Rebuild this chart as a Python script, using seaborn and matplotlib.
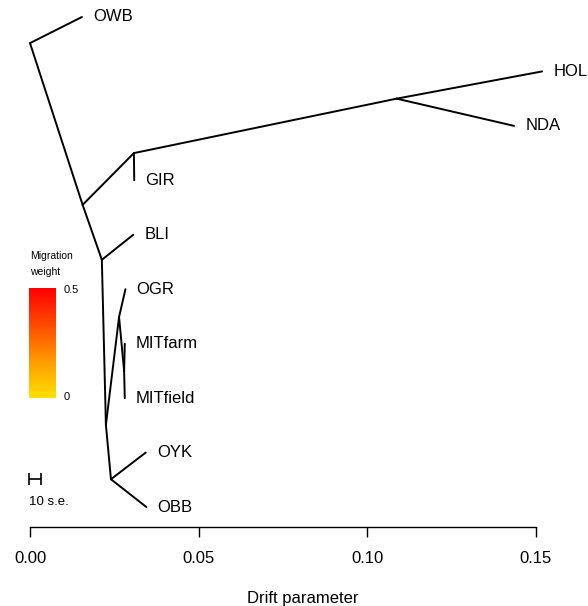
"""
TreeMix-style maximum likelihood tree with drift parameter axis.
"""

import numpy as np
import pandas as pd
import matplotlib
matplotlib.use("Agg")
import matplotlib.pyplot as plt
import seaborn as sns
from matplotlib.colors import LinearSegmentedColormap

# Tree nodes: name, drift (x) and vertical position (tip rank, OBB = 1)
node_names = ["root", "OWB", "A", "GH", "GIR", "HN", "HOL", "NDA", "B", "BLI",
              "C", "D", "OGR", "MIT", "MITfarm", "MITfield", "E", "OYK", "OBB"]
node_drift = [0.0000, 0.0154, 0.0156, 0.0308, 0.0309, 0.1087, 0.1518, 0.1435,
              0.0213, 0.0306, 0.0225, 0.0264, 0.0283, 0.0279, 0.0281, 0.0281,
              0.0240, 0.0343, 0.0345]
node_pos = [9.52, 10.0, 6.55, 7.50, 7.0, 8.50, 9.0, 8.0, 5.54, 6.0,
            2.51, 4.49, 5.0, 3.50, 4.0, 3.0, 1.51, 2.0, 1.0]

# Edges of the tree (parent -> child)
edge_parent = ["root", "root", "A", "GH", "GH", "HN", "HN", "A", "B", "B",
               "C", "D", "D", "MIT", "MIT", "C", "E", "E"]
edge_child = ["OWB", "A", "GH", "GIR", "HN", "HOL", "NDA", "B", "BLI", "C",
              "D", "OGR", "MIT", "MITfarm", "MITfield", "E", "OYK", "OBB"]

tips = ["OWB", "HOL", "NDA", "GIR", "BLI", "OGR", "MITfarm", "MITfield", "OYK", "OBB"]

x_ticks = [0.00, 0.05, 0.10, 0.15]
x_tick_labels = ["0.00", "0.05", "0.10", "0.15"]

# Scale bar (10 standard errors) and migration weight legend
se_drift = 0.0036
se_label = "10 s.e."
mig_range = ["0", "0.5"]

W, H = 588, 606


def fig_xy(px, py):
    return px / W, 1 - py / H


def main() -> None:
    sns.set_style("white")
    plt.rcParams["font.family"] = ["Liberation Sans", "DejaVu Sans"]
    plt.rcParams["text.color"] = "black"
    plt.rcParams["axes.labelcolor"] = "black"
    plt.rcParams["xtick.color"] = "black"

    fig = plt.figure(figsize=(W / 100, H / 100), dpi=100)
    ax = fig.add_axes([10 / W, (H - 527) / H, 568 / W, 522 / H])

    pos = {n: (x, y) for n, x, y in zip(node_names, node_drift, node_pos)}
    rows = []
    for i, (p, c) in enumerate(zip(edge_parent, edge_child)):
        for n in (p, c):
            rows.append({"edge": i, "drift": pos[n][0], "y": pos[n][1]})
    edges = pd.DataFrame(rows)

    sns.lineplot(data=edges, x="drift", y="y", units="edge", estimator=None,
                 sort=False, color="black", linewidth=1.4, ax=ax, legend=False)

    for t in tips:
        ax.annotate(t, xy=pos[t], xytext=(8, 0), textcoords="offset points",
                    ha="left", va="center", fontsize=12, color="black")

    # scale bar
    ax.errorbar(0.0015, 1.51, xerr=se_drift / 2, color="black", capsize=4.5,
                elinewidth=1.2, capthick=1.2, fmt="none")

    ax.set_xlim(-0.00593, 0.16246)
    ax.set_ylim(0.633, 10.22)
    ax.set_xticks(x_ticks)
    ax.set_xticklabels(x_tick_labels, fontsize=12)
    ax.set_yticks([])
    ax.set_ylabel("")
    ax.set_xlabel("Drift parameter", fontsize=12)
    ax.xaxis.label.set_va("baseline")
    ax.xaxis.set_label_coords(293 / 568, -76 / 522)
    for s in ("left", "top", "right"):
        ax.spines[s].set_visible(False)
    ax.spines["bottom"].set_bounds(0, 0.15)
    ax.spines["bottom"].set_linewidth(1.0)
    ax.spines["bottom"].set_color("black")
    ax.tick_params(axis="x", direction="out", length=7, width=1.0,
                   pad=10, bottom=True, colors="black")

    # migration weight colour bar
    cmap = LinearSegmentedColormap.from_list(
        "mig", ["#FFE000", "#FF9A00", "#FF4A00", "#FF0000"])
    cax = fig.add_axes([29 / W, (H - 398) / H, 27 / W, 110 / H])
    grad = np.linspace(0, 1, 150).reshape(-1, 1)
    cax.imshow(grad, aspect="auto", cmap=cmap, origin="lower")
    cax.set_axis_off()

    fig.text(*fig_xy(30, 256), "Migration", fontsize=7.5, ha="left", va="center")
    fig.text(*fig_xy(30, 272), "weight", fontsize=7.5, ha="left", va="center")
    fig.text(*fig_xy(64, 290), mig_range[1], fontsize=8, ha="left", va="center")
    fig.text(*fig_xy(64, 397), mig_range[0], fontsize=8, ha="left", va="center")
    fig.text(*fig_xy(29, 502), se_label, fontsize=9.5, ha="left", va="center")

    fig.savefig("out.png", dpi=100)


if __name__ == "__main__":
    main()
